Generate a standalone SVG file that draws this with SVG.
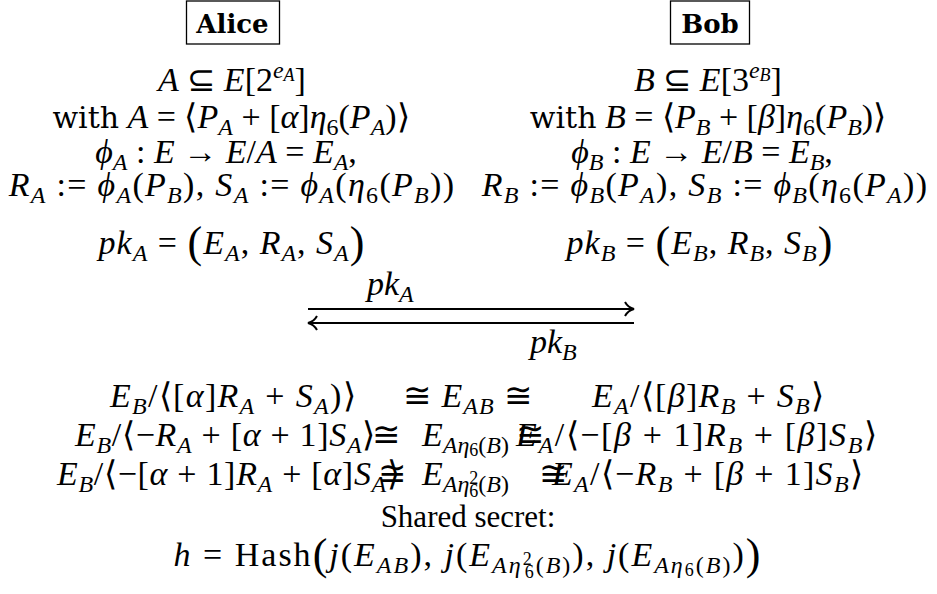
<svg xmlns="http://www.w3.org/2000/svg" width="937" height="594" viewBox="0 0 937 594">
<style>
text{font-family:"Liberation Serif",serif;font-size:34px;fill:#000}
.i{font-style:italic}
.s{font-size:24px}
.ss{font-size:18px}
.w{font-family:"DejaVu Serif",serif;font-size:30px;letter-spacing:0}
.name{font-family:"DejaVu Serif",serif;font-weight:bold;font-size:26px}
.box{fill:#fff;stroke:#000;stroke-width:1.3}
.arr{fill:none;stroke:#000;stroke-width:2}
.bp{font-size:44px}
.sh{font-family:"Liberation Serif",serif;font-size:31px}
.ls{letter-spacing:1.3px}
.ls1{letter-spacing:1px}
.ls07{letter-spacing:0.7px}
.ls16{letter-spacing:1.6px}
.lsh{letter-spacing:2px}
</style>
<rect width="937" height="594" fill="#fff"/>
<g id="alice">
<rect class="box" x="186.5" y="1" width="93" height="43"/>
<text class="name" x="232.5" y="33" text-anchor="middle">Alice</text>
<text x="232" y="91" text-anchor="middle"><tspan class="i">A</tspan> ⊆ <tspan class="i">E</tspan>[2<tspan class="s i" dy="-13">e</tspan><tspan class="ss i" dy="3">A</tspan><tspan dy="10">]</tspan></text>
<text x="231" y="128" text-anchor="middle"><tspan class="w">with</tspan> <tspan class="i">A</tspan> = ⟨<tspan class="i">P</tspan><tspan class="s i" dy="7">A</tspan><tspan dy="-7"> + [</tspan><tspan class="i">α</tspan>]<tspan class="i">η</tspan><tspan class="s" dy="7">6</tspan><tspan dy="-7">(</tspan><tspan class="i">P</tspan><tspan class="s i" dy="7">A</tspan><tspan dy="-7">)⟩</tspan></text>
<text x="226" y="163" text-anchor="middle"><tspan class="i">ϕ</tspan><tspan class="s i" dy="7">A</tspan><tspan dy="-7"> : </tspan><tspan class="i">E</tspan> → <tspan class="i">E</tspan>/<tspan class="i">A</tspan> = <tspan class="i">E</tspan><tspan class="s i" dy="7">A</tspan><tspan dy="-7">,</tspan></text>
<text class="ls" x="232" y="196" text-anchor="middle"><tspan class="i">R</tspan><tspan class="s i" dy="7">A</tspan><tspan dy="-7"> := </tspan><tspan class="i">ϕ</tspan><tspan class="s i" dy="7">A</tspan><tspan dy="-7">(</tspan><tspan class="i">P</tspan><tspan class="s i" dy="7">B</tspan><tspan dy="-7">), </tspan><tspan class="i">S</tspan><tspan class="s i" dy="7">A</tspan><tspan dy="-7"> := </tspan><tspan class="i">ϕ</tspan><tspan class="s i" dy="7">A</tspan><tspan dy="-7">(</tspan><tspan class="i">η</tspan><tspan class="s" dy="7">6</tspan><tspan dy="-7">(</tspan><tspan class="i">P</tspan><tspan class="s i" dy="7">B</tspan><tspan dy="-7">))</tspan></text>
<text class="ls1" x="232" y="254" text-anchor="middle"><tspan class="i">pk</tspan><tspan class="s i" dy="7">A</tspan><tspan dy="-7"> = </tspan><tspan class="bp" dy="3">(</tspan><tspan class="i" dy="-3">E</tspan><tspan class="s i" dy="7">A</tspan><tspan dy="-7">, </tspan><tspan class="i">R</tspan><tspan class="s i" dy="7">A</tspan><tspan dy="-7">, </tspan><tspan class="i">S</tspan><tspan class="s i" dy="7">A</tspan><tspan class="bp" dy="-4">)</tspan></text>
</g>
<g id="bob">
<rect class="box" x="670.5" y="1" width="79" height="43"/>
<text class="name" x="710" y="33" text-anchor="middle">Bob</text>
<text x="708" y="91" text-anchor="middle"><tspan class="i">B</tspan> ⊆ <tspan class="i">E</tspan>[3<tspan class="s i" dy="-13">e</tspan><tspan class="ss i" dy="3">B</tspan><tspan dy="10">]</tspan></text>
<text x="708" y="128" text-anchor="middle"><tspan class="w">with</tspan> <tspan class="i">B</tspan> = ⟨<tspan class="i">P</tspan><tspan class="s i" dy="7">B</tspan><tspan dy="-7"> + [</tspan><tspan class="i">β</tspan>]<tspan class="i">η</tspan><tspan class="s" dy="7">6</tspan><tspan dy="-7">(</tspan><tspan class="i">P</tspan><tspan class="s i" dy="7">B</tspan><tspan dy="-7">)⟩</tspan></text>
<text x="702" y="163" text-anchor="middle"><tspan class="i">ϕ</tspan><tspan class="s i" dy="7">B</tspan><tspan dy="-7"> : </tspan><tspan class="i">E</tspan> → <tspan class="i">E</tspan>/<tspan class="i">B</tspan> = <tspan class="i">E</tspan><tspan class="s i" dy="7">B</tspan><tspan dy="-7">,</tspan></text>
<text class="ls" x="705" y="196" text-anchor="middle"><tspan class="i">R</tspan><tspan class="s i" dy="7">B</tspan><tspan dy="-7"> := </tspan><tspan class="i">ϕ</tspan><tspan class="s i" dy="7">B</tspan><tspan dy="-7">(</tspan><tspan class="i">P</tspan><tspan class="s i" dy="7">A</tspan><tspan dy="-7">), </tspan><tspan class="i">S</tspan><tspan class="s i" dy="7">B</tspan><tspan dy="-7"> := </tspan><tspan class="i">ϕ</tspan><tspan class="s i" dy="7">B</tspan><tspan dy="-7">(</tspan><tspan class="i">η</tspan><tspan class="s" dy="7">6</tspan><tspan dy="-7">(</tspan><tspan class="i">P</tspan><tspan class="s i" dy="7">A</tspan><tspan dy="-7">))</tspan></text>
<text class="ls1" x="700" y="254" text-anchor="middle"><tspan class="i">pk</tspan><tspan class="s i" dy="7">B</tspan><tspan dy="-7"> = </tspan><tspan class="bp" dy="3">(</tspan><tspan class="i" dy="-3">E</tspan><tspan class="s i" dy="7">B</tspan><tspan dy="-7">, </tspan><tspan class="i">R</tspan><tspan class="s i" dy="7">B</tspan><tspan dy="-7">, </tspan><tspan class="i">S</tspan><tspan class="s i" dy="7">B</tspan><tspan class="bp" dy="-4">)</tspan></text>
</g>
<g id="connectors">
<line class="arr" x1="308" y1="309" x2="633" y2="309"/>
<path class="arr" d="M625,302 Q628,307.5 634,309 Q628,310.5 625,316"/>
<line class="arr" x1="310" y1="323" x2="634" y2="323"/>
<path class="arr" d="M317,316 Q314,321.5 308,323 Q314,324.5 317,330"/>
<text x="367" y="295"><tspan class="i">pk</tspan><tspan class="s i" dy="7">A</tspan></text>
<text x="530" y="353"><tspan class="i">pk</tspan><tspan class="s i" dy="7">B</tspan></text>
</g>
<g id="isogenies">
<text class="ls" x="110" y="407"><tspan class="i">E</tspan><tspan class="s i" dy="7">B</tspan><tspan dy="-7">/⟨[</tspan><tspan class="i">α</tspan>]<tspan class="i">R</tspan><tspan class="s i" dy="7">A</tspan><tspan dy="-7"> + </tspan><tspan class="i">S</tspan><tspan class="s i" dy="7">A</tspan><tspan dy="-7">)⟩</tspan></text>
<text class="ls1" x="403" y="407">≅ <tspan class="i">E</tspan><tspan class="s i" dy="7">AB</tspan><tspan dy="-7"> ≅</tspan></text>
<text class="ls" x="592" y="407"><tspan class="i">E</tspan><tspan class="s i" dy="7">A</tspan><tspan dy="-7">/⟨[</tspan><tspan class="i">β</tspan>]<tspan class="i">R</tspan><tspan class="s i" dy="7">B</tspan><tspan dy="-7"> + </tspan><tspan class="i">S</tspan><tspan class="s i" dy="7">B</tspan><tspan dy="-7">⟩</tspan></text>
<text class="ls07" x="75" y="446"><tspan class="i">E</tspan><tspan class="s i" dy="7">B</tspan><tspan dy="-7">/⟨−</tspan><tspan class="i">R</tspan><tspan class="s i" dy="7">A</tspan><tspan dy="-7"> + [</tspan><tspan class="i">α</tspan> + 1]<tspan class="i">S</tspan><tspan class="s i" dy="7">A</tspan><tspan dy="-7">⟩</tspan></text>
<text x="372" y="446">≅</text>
<text x="422" y="446"><tspan class="i">E</tspan><tspan class="s i" dy="7">Aη</tspan><tspan class="ss" dy="3">6</tspan><tspan class="s" dy="-3">(</tspan><tspan class="s i">B</tspan><tspan class="s">)</tspan></text>
<text x="516" y="446">≅</text>
<text class="ls16" x="516" y="446"><tspan class="i">E</tspan><tspan class="s i" dy="7">A</tspan><tspan dy="-7">/⟨−[</tspan><tspan class="i">β</tspan> + 1]<tspan class="i">R</tspan><tspan class="s i" dy="7">B</tspan><tspan dy="-7"> + [</tspan><tspan class="i">β</tspan>]<tspan class="i">S</tspan><tspan class="s i" dy="7">B</tspan><tspan dy="-7">⟩</tspan></text>
<text class="ls07" x="57" y="485"><tspan class="i">E</tspan><tspan class="s i" dy="7">B</tspan><tspan dy="-7">/⟨−[</tspan><tspan class="i">α</tspan> + 1]<tspan class="i">R</tspan><tspan class="s i" dy="7">A</tspan><tspan dy="-7"> + [</tspan><tspan class="i">α</tspan>]<tspan class="i">S</tspan><tspan class="s i" dy="7">A</tspan><tspan dy="-7">⟩</tspan></text>
<text x="378" y="485">≅</text>
<text x="422" y="485"><tspan class="i">E</tspan><tspan class="s i" dy="7">Aη</tspan><tspan class="ss" dy="-8">2</tspan><tspan class="ss" dx="-9" dy="13">6</tspan><tspan class="s" dy="-5">(</tspan><tspan class="s i">B</tspan><tspan class="s">)</tspan></text>
<text x="539" y="485">≅</text>
<text class="ls" x="552" y="485"><tspan class="i">E</tspan><tspan class="s i" dy="7">A</tspan><tspan dy="-7">/⟨−</tspan><tspan class="i">R</tspan><tspan class="s i" dy="7">B</tspan><tspan dy="-7"> + [</tspan><tspan class="i">β</tspan> + 1]<tspan class="i">S</tspan><tspan class="s i" dy="7">B</tspan><tspan dy="-7">⟩</tspan></text>
</g>
<g id="shared-secret">
<text class="sh" x="468" y="527" text-anchor="middle">Shared secret:</text>
<text class="lsh" x="468" y="566" text-anchor="middle"><tspan class="i">h</tspan> = Hash<tspan class="bp" dy="3">(</tspan><tspan class="i" dy="-3">j</tspan>(<tspan class="i">E</tspan><tspan class="s i" dy="7">AB</tspan><tspan dy="-7">), </tspan><tspan class="i">j</tspan>(<tspan class="i">E</tspan><tspan class="s i" dy="7">Aη</tspan><tspan class="ss" dy="-8">2</tspan><tspan class="ss" dx="-9" dy="13">6</tspan><tspan class="s" dy="-5">(</tspan><tspan class="s i">B</tspan><tspan class="s">)</tspan><tspan dy="-7">), </tspan><tspan class="i">j</tspan>(<tspan class="i">E</tspan><tspan class="s i" dy="7">Aη</tspan><tspan class="ss" dy="3">6</tspan><tspan class="s" dy="-3">(</tspan><tspan class="s i">B</tspan><tspan class="s">)</tspan><tspan dy="-7">)</tspan><tspan class="bp" dy="3">)</tspan></text>
</g>
</svg>
